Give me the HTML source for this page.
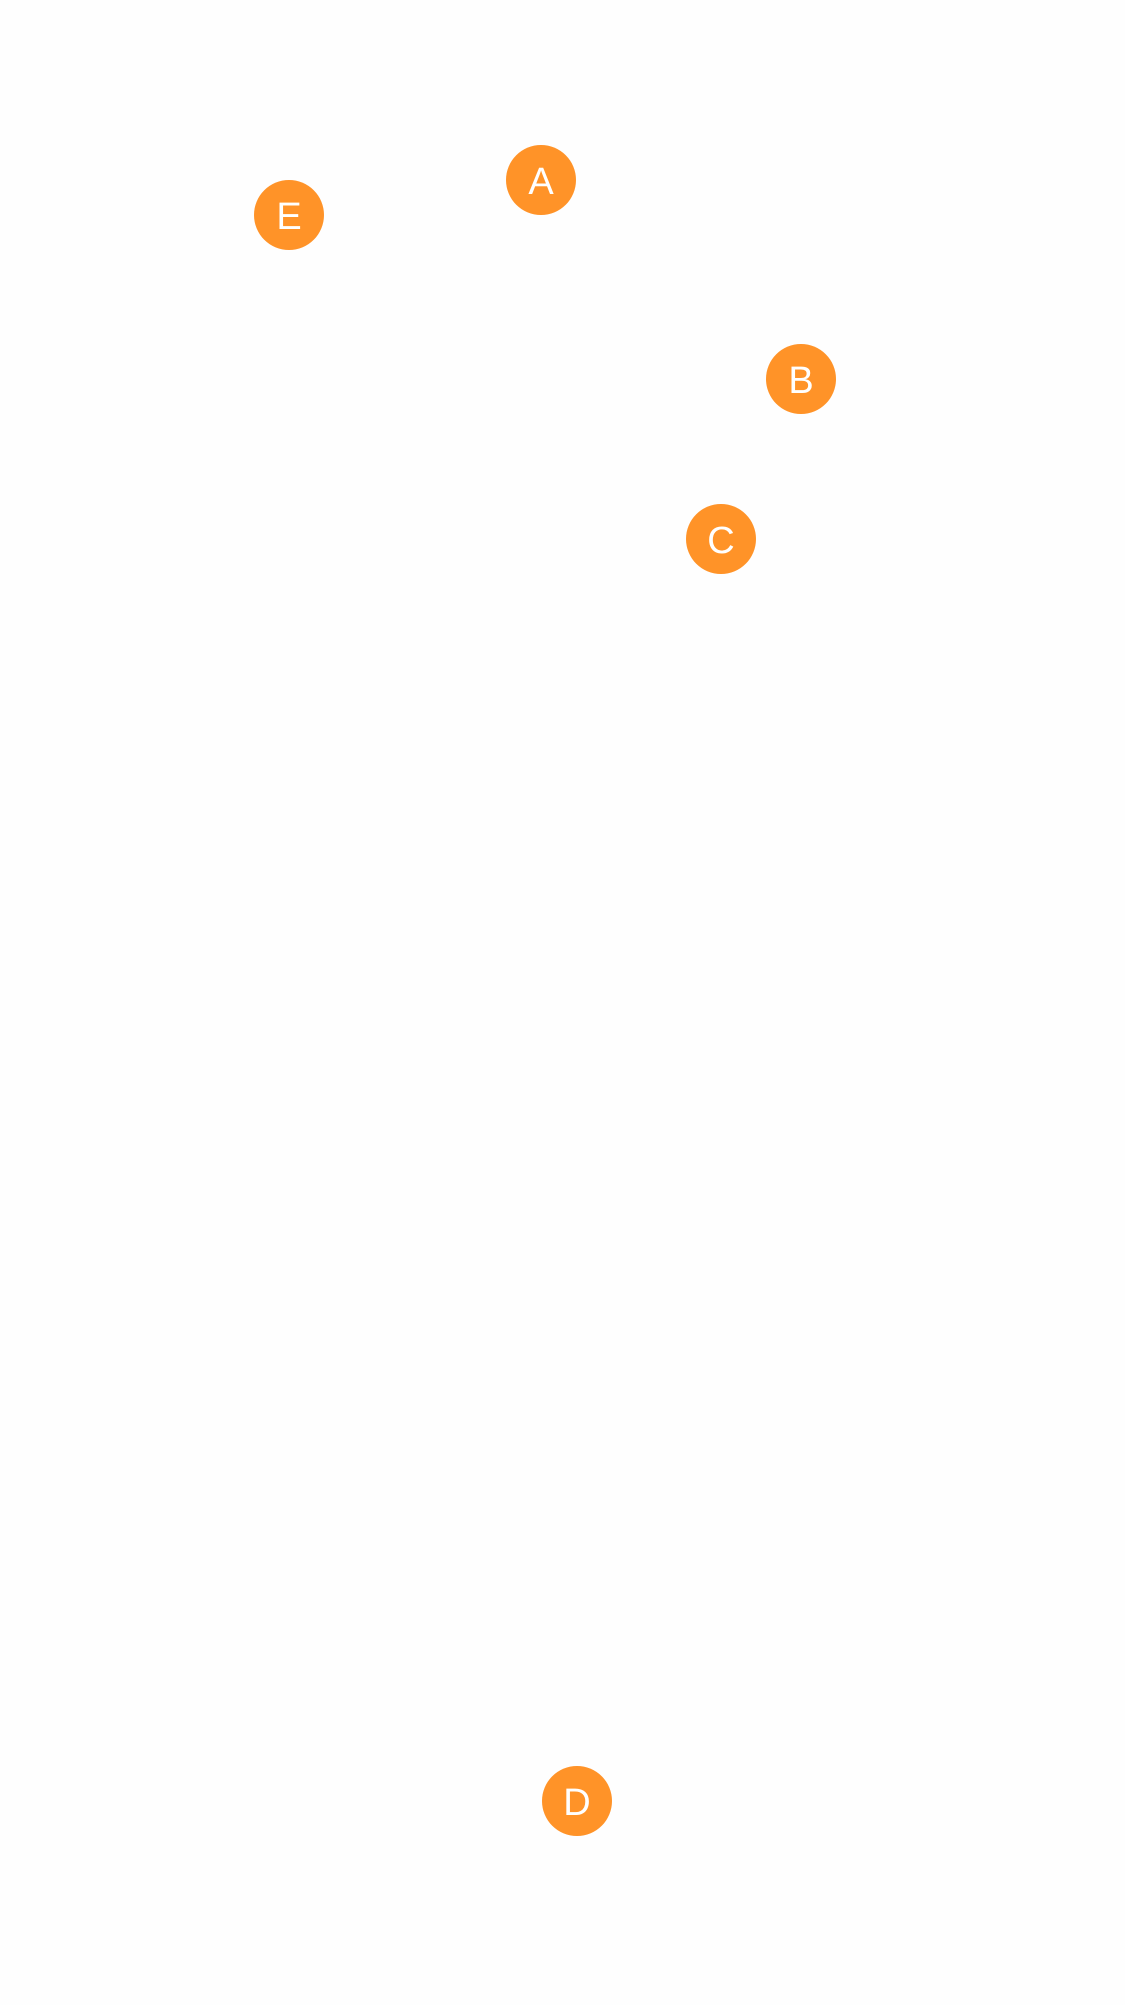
<!DOCTYPE html>
<html><head><style>html,body{margin:0;padding:0;background:#fefefe;}</style></head>
<body>
<svg width="1125" height="2000" xmlns="http://www.w3.org/2000/svg">
<rect width="1125" height="2000" fill="#fefefe"/>
<g fill="#ff9328">
<circle cx="541" cy="180" r="35"/>
<circle cx="289" cy="215" r="35"/>
<circle cx="801" cy="379" r="35"/>
<circle cx="721" cy="539" r="35"/>
<circle cx="577" cy="1801" r="35"/>
</g>
<g fill="#fff" font-family="Liberation Sans, sans-serif" font-size="38" text-anchor="middle">
<text x="541" y="194">A</text>
<text x="289" y="229">E</text>
<text x="801" y="393">B</text>
<text x="721" y="553">C</text>
<text x="577" y="1815">D</text>
</g>
</svg>
</body></html>
